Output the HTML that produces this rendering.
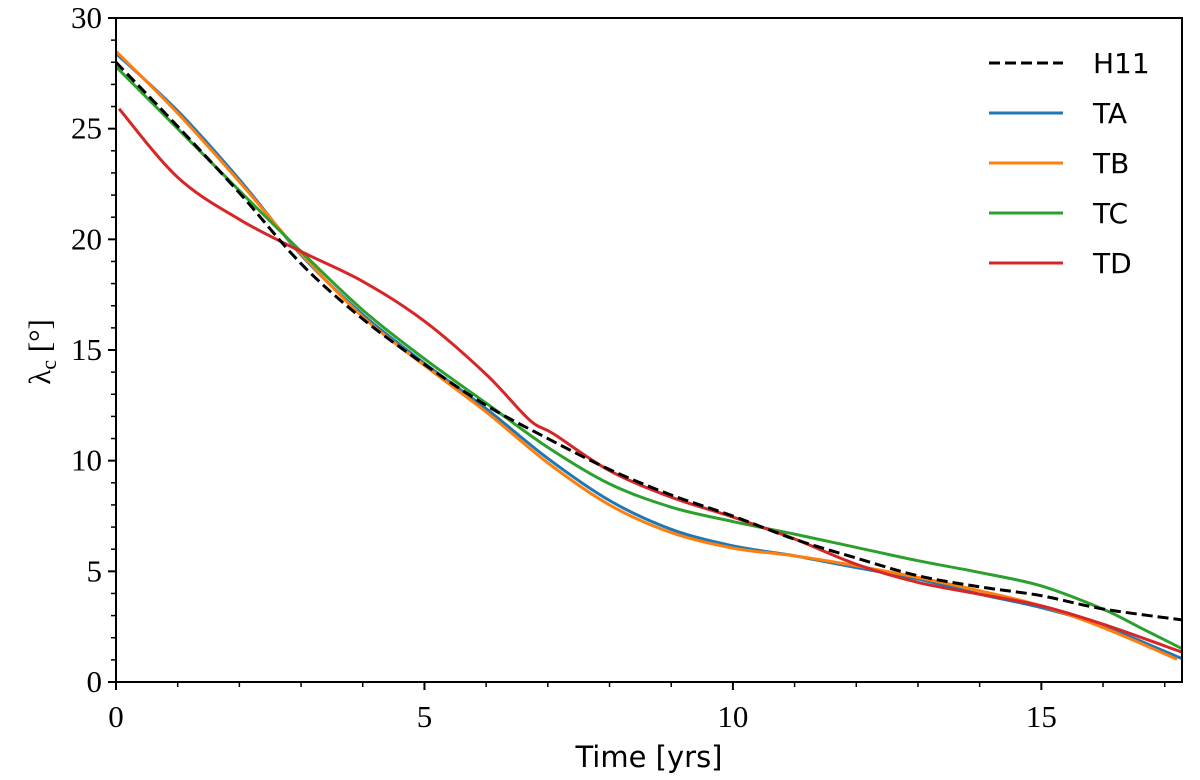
<!DOCTYPE html>
<html><head><meta charset="utf-8"><style>
html,body{margin:0;padding:0;background:#fff;}
svg{display:block;}
.tick{font-family:"Liberation Serif","DejaVu Serif",serif;font-size:31px;fill:#000;}
.sans{font-family:"DejaVu Sans","Liberation Sans",sans-serif;fill:#000;}
</style></head><body>
<svg id="chart" width="1200" height="780" xmlns="http://www.w3.org/2000/svg">
<g id="plot"></g>
<g id="axes"></g>
<g id="legend"></g>
</svg>
<script>
const xsH11 = [0,1,2,3,4,5,6,7,8,9,10,11,12,13,14,15,16,17.3];
const valsH11 = [28.0,25.1,22.1,18.9,16.4,14.35,12.5,11.0,9.6,8.45,7.5,6.45,5.6,4.8,4.3,3.9,3.3,2.8];
const xsTA = [0,1,2,3,4,5,6,7,8,9,10,11,12,13,14,15,16,17.3];
const valsTA = [28.4,25.8,22.7,19.3,16.6,14.4,12.35,10.1,8.2,6.9,6.15,5.7,5.17,4.65,3.97,3.36,2.53,1.03];
const xsTB = [0,1,2,3,4,5,6,7,8,9,10,11,12,13,14,15,16,17.2];
const valsTB = [28.5,25.7,22.6,19.35,16.5,14.3,12.2,9.9,8.0,6.75,6.05,5.7,5.25,4.72,4.12,3.44,2.46,1.03];
const xsTC = [0,1,2,3,4,5,6,7,8,9,10,11,12,13,14,15,16,16.6,17.3];
const valsTC = [27.8,25.0,22.2,19.45,16.8,14.6,12.6,10.6,8.95,7.9,7.25,6.68,6.08,5.48,4.95,4.34,3.29,2.46,1.48];
const xsTD = [0.05,1,2,3,4,5,6,6.7,7.1,8,9,10,11,12,13,14,15,16,17.3];
const valsTD = [25.9,22.8,20.9,19.45,18.1,16.3,13.9,11.85,11.2,9.55,8.35,7.45,6.46,5.32,4.5,3.97,3.44,2.61,1.33];
const xTicks = [0,5,10,15];
const yTicks = [0,5,10,15,20,25,30];
const seriesNames = ["H11","TA","TB","TC","TD"];
const seriesColors = ["#000000","#1f77b4","#ff7f0e","#2ca02c","#d62728"];

const X0=116, X1=1182, Y0=682, Y1=18, XMAX=17.28, YMAX=30;
const sx = v => X0 + v/XMAX*(X1-X0);
const sy = v => Y0 - v/YMAX*(Y0-Y1);
const NS="http://www.w3.org/2000/svg";
function mk(tag, attrs, parent){const e=document.createElementNS(NS,tag);for(const k in attrs)e.setAttribute(k,attrs[k]);parent.appendChild(e);return e;}

function pathFor(xs, ys){
  const p = xs.map((x,i)=>[sx(x), sy(ys[i])]);
  let d = "M"+p[0][0].toFixed(2)+","+p[0][1].toFixed(2);
  for(let i=0;i<p.length-1;i++){
    const p0=p[Math.max(0,i-1)], p1=p[i], p2=p[i+1], p3=p[Math.min(p.length-1,i+2)];
    const c1=[p1[0]+(p2[0]-p0[0])/6, p1[1]+(p2[1]-p0[1])/6];
    const c2=[p2[0]-(p3[0]-p1[0])/6, p2[1]-(p3[1]-p1[1])/6];
    d+=" C"+c1.map(v=>v.toFixed(2)).join(",")+" "+c2.map(v=>v.toFixed(2)).join(",")+" "+p2.map(v=>v.toFixed(2)).join(",");
  }
  return d;
}

const plot=document.getElementById('plot');
mk('clipPath',{id:'clip'},plot);
mk('rect',{x:X0,y:Y1,width:X1-X0,height:Y0-Y1},document.getElementById('clip'));
const allX=[xsH11,xsTA,xsTB,xsTC,xsTD], allY=[valsH11,valsTA,valsTB,valsTC,valsTD];
const order=[1,2,3,4,0];
order.forEach(i=>{
  const el=mk('path',{d:pathFor(allX[i],allY[i]),fill:'none',stroke:seriesColors[i],'stroke-width':3,'clip-path':'url(#clip)'},plot);
  if(i===0) el.setAttribute('stroke-dasharray','11,5');
  
  
});

const axes=document.getElementById('axes');
const frame=mk('rect',{x:X0,y:Y1,width:X1-X0,height:Y0-Y1,fill:'none',stroke:'#000','stroke-width':2},axes);


for(let v=0; v<=XMAX; v+=1){
  const major = v%5===0;
  mk('line',{x1:sx(v),x2:sx(v),y1:Y0,y2:Y0+(major?8:5),stroke:'#000','stroke-width':major?2:1.5},axes);
}
for(let v=0; v<=YMAX; v+=1){
  const major = v%5===0;
  mk('line',{x1:X0,x2:X0-(major?8:5),y1:sy(v),y2:sy(v),stroke:'#000','stroke-width':major?2:1.5},axes);
}
xTicks.forEach(v=>{
  const t=mk('text',{x:sx(v),y:Y0+45,'text-anchor':'middle',class:'tick'},axes);
  t.textContent=v;
  
  
});
yTicks.forEach(v=>{
  const t=mk('text',{x:X0-14,y:sy(v)+10,'text-anchor':'end',class:'tick'},axes);
  t.textContent=v;
  
  
});
const xl=mk('text',{x:(X0+X1)/2,y:767,'text-anchor':'middle',class:'sans','font-size':29},axes);
xl.textContent='Time [yrs]';


const yl=mk('text',{x:0,y:0,'text-anchor':'middle',class:'tick','font-size':32,transform:'translate(50,352) rotate(-90)'},axes);
yl.innerHTML='λ<tspan font-size="22" dy="6">c</tspan><tspan dy="-6"> [°]</tspan>';



const legend=document.getElementById('legend');
seriesNames.forEach((n,i)=>{
  const y=63+i*50;
  const g=mk('g',{},legend);
  
  
  const l=mk('line',{x1:989,x2:1063,y1:y,y2:y,stroke:seriesColors[i],'stroke-width':3},g);
  if(i===0) l.setAttribute('stroke-dasharray','11,5');
  const t=mk('text',{x:1093,y:y+10,class:'sans','font-size':28},g);
  t.textContent=n;
});
</script>
</body></html>
